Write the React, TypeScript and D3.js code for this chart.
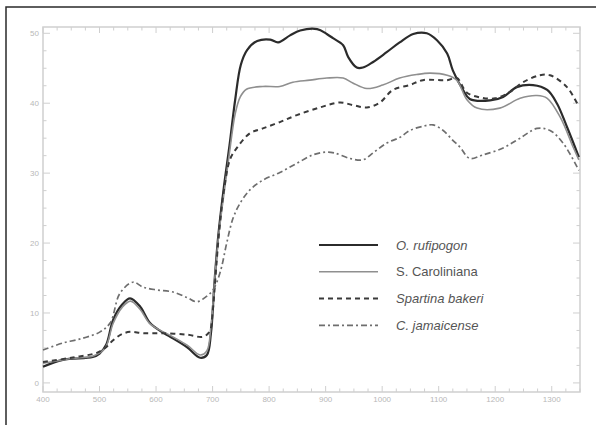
import React from 'react';
import * as d3 from 'd3';

// wavelength (nm) and reflectance (%)
const rufWl = [400, 435, 488, 500, 512, 524, 540, 554, 572, 589, 610, 625, 655, 678, 690, 697, 703, 710, 720, 730, 740, 750, 761, 779, 802, 816, 837, 855, 885, 902, 913, 931, 940, 955, 966, 984, 1008, 1031, 1055, 1079, 1097, 1115, 1125, 1143, 1155, 1191, 1214, 1238, 1267, 1292, 1309, 1327, 1348];
const rufRef = [2.3, 3.3, 3.7, 4.2, 5.5, 9.0, 11.2, 12.1, 10.9, 8.6, 7.3, 6.6, 5.1, 3.6, 4.0, 7.0, 14.0, 21.0, 28.0, 34.0, 40.5, 45.5, 47.6, 48.9, 49.1, 48.7, 49.7, 50.4, 50.6, 49.9, 49.3, 48.3, 46.6, 45.1, 45.1, 45.9, 47.3, 48.7, 49.9, 50.0, 49.0, 47.1, 44.7, 41.9, 40.6, 40.4, 40.9, 42.3, 42.6, 41.9, 40.0, 36.6, 32.3];

const carWl = [400, 450, 490, 510, 524, 540, 555, 572, 590, 625, 655, 678, 690, 697, 703, 710, 720, 730, 740, 749, 760, 789, 819, 842, 872, 902, 931, 948, 973, 1001, 1031, 1061, 1085, 1115, 1132, 1150, 1168, 1208, 1244, 1274, 1292, 1315, 1338, 1348];
const carRef = [2.8, 3.5, 3.9, 5.0, 8.5, 10.8, 11.7, 10.5, 8.4, 6.8, 5.4, 4.0, 4.6, 8.0, 14.0, 20.5, 27.0, 33.0, 38.5, 40.9, 42.0, 42.4, 42.4, 43.0, 43.3, 43.6, 43.6, 42.9, 42.1, 42.6, 43.6, 44.1, 44.3, 44.0, 43.3, 40.5, 39.3, 39.3, 40.7, 41.1, 40.7, 38.0, 33.7, 31.9];

const spaWl = [400, 450, 495, 510, 524, 540, 554, 577, 612, 655, 683, 695, 700, 705, 712, 720, 731, 743, 766, 789, 819, 849, 890, 925, 950, 973, 996, 1019, 1049, 1072, 1115, 1132, 1150, 1175, 1200, 1226, 1249, 1279, 1297, 1327, 1348];
const spaRef = [3.0, 3.6, 4.3, 5.0, 6.1, 7.0, 7.3, 7.1, 7.1, 6.9, 6.6, 7.4, 10.0, 15.0, 22.0, 27.5, 32.0, 33.6, 35.7, 36.4, 37.3, 38.3, 39.4, 40.1, 39.7, 39.4, 40.1, 41.9, 42.6, 43.3, 43.3, 43.6, 41.5, 40.8, 40.7, 41.6, 43.0, 44.0, 44.0, 42.3, 39.5];

const jamWl = [400, 435, 471, 501, 519, 536, 559, 577, 601, 630, 655, 672, 688, 700, 708, 716, 725, 736, 748, 766, 789, 819, 849, 877, 900, 915, 943, 966, 984, 1008, 1031, 1049, 1072, 1090, 1108, 1125, 1138, 1155, 1178, 1214, 1244, 1274, 1297, 1320, 1348];
const jamRef = [4.7, 5.7, 6.4, 7.3, 8.6, 12.8, 14.4, 13.7, 13.3, 13.0, 12.2, 11.6, 12.3, 13.2, 14.5, 16.6, 20.0, 23.5, 25.6, 27.6, 29.0, 30.1, 31.4, 32.6, 33.0, 32.9, 32.1, 31.9, 32.9, 34.3, 35.1, 36.1, 36.7, 36.9, 36.1, 34.7, 33.7, 32.1, 32.6, 33.6, 35.0, 36.4, 36.1, 34.3, 30.4];

const seriesNames = ['O. rufipogon', 'S. Caroliniana', 'Spartina bakeri', 'C. jamaicense'];
const xTicks = [400, 500, 600, 700, 800, 900, 1000, 1100, 1200, 1300];
const yTicks = [0, 10, 20, 30, 40, 50];

const series = [
  { name: seriesNames[0], wl: rufWl, ref: rufRef, color: '#2b2b2b', width: 2.2, dash: '', italic: true },
  { name: seriesNames[1], wl: carWl, ref: carRef, color: '#8f8f8f', width: 1.6, dash: '', italic: false },
  { name: seriesNames[2], wl: spaWl, ref: spaRef, color: '#3a3a3a', width: 2, dash: '5,4', italic: true },
  { name: seriesNames[3], wl: jamWl, ref: jamRef, color: '#6e6e6e', width: 1.7, dash: '6,3,2,3', italic: true },
];

export default function App() {
  const W = 596, H = 425;
  const left = 43, right = 580, top = 27, bottom = 392;

  const x = d3.scaleLinear().domain([400, 1350]).range([left, right]);
  const y = d3.scaleLinear().domain([-1.3, 50.9]).range([bottom, top]);

  const line = d3.line<[number, number]>()
    .x(d => x(d[0]))
    .y(d => y(d[1]))
    .curve(d3.curveCatmullRom.alpha(0.5));

  const xMinor = d3.range(400, 1351, 25);
  const yMinor = d3.range(0, 50.1, 2.5);
  const axisColor = '#cfcfcf';
  const labelColor = '#b8b8b8';

  return (
    <svg width={W} height={H} style={{ position: 'absolute', left: 0, top: 0, background: '#fff' }}
      fontFamily="'Liberation Sans', Arial, sans-serif">
      {/* outer frame */}
      <rect x={6} y={7} width={W + 10} height={H + 10} fill="none" stroke="#2a2a2a" strokeWidth={1.5} />

      {/* plot box */}
      <rect x={left} y={top} width={right - left} height={bottom - top} fill="none" stroke={axisColor} strokeWidth={1.5} />

      {/* x ticks, bottom and top */}
      {xMinor.map(v => {
        const major = v % 100 === 0;
        const len = major ? 6 : 3.5;
        return (
          <g key={'xt' + v}>
            <line x1={x(v)} x2={x(v)} y1={bottom} y2={bottom - len} stroke={axisColor} strokeWidth={1} />
            <line x1={x(v)} x2={x(v)} y1={top} y2={top + len} stroke={axisColor} strokeWidth={1} />
          </g>
        );
      })}
      {/* y ticks, left and right */}
      {yMinor.map(v => {
        const major = v % 10 === 0;
        const len = major ? 7 : 3.5;
        return (
          <g key={'yt' + v}>
            <line x1={left} x2={left + len} y1={y(v)} y2={y(v)} stroke={axisColor} strokeWidth={1} />
            <line x1={right} x2={right - len} y1={y(v)} y2={y(v)} stroke={axisColor} strokeWidth={1} />
          </g>
        );
      })}

      {xTicks.map(v => (
        <text key={'xl' + v} x={x(v)} y={bottom + 10} fontSize={8} fill={labelColor} textAnchor="middle">{v}</text>
      ))}
      {yTicks.map(v => (
        <text key={'yl' + v} x={left - 4} y={y(v) + 3} fontSize={8} fill={labelColor} textAnchor="end">{v}</text>
      ))}

      {/* spectra */}
      {series.map(s => (
        <path key={s.name}
          d={line(s.wl.map((w, i) => [w, s.ref[i]] as [number, number])) || ''}
          fill="none" stroke={s.color} strokeWidth={s.width} strokeDasharray={s.dash || undefined}
          strokeLinejoin="round" />
      ))}

      {/* legend */}
      {series.map((s, i) => {
        const ly = 245 + i * 26.8;
        return (
          <g key={'lg' + s.name}>
            <line x1={319} x2={378} y1={ly} y2={ly} stroke={s.color} strokeWidth={s.width} strokeDasharray={s.dash || undefined} />
            <text x={396} y={ly + 4.5} fontSize={13} fill="#555" fontStyle={s.italic ? 'italic' : 'normal'}>{s.name}</text>
          </g>
        );
      })}
    </svg>
  );
}
